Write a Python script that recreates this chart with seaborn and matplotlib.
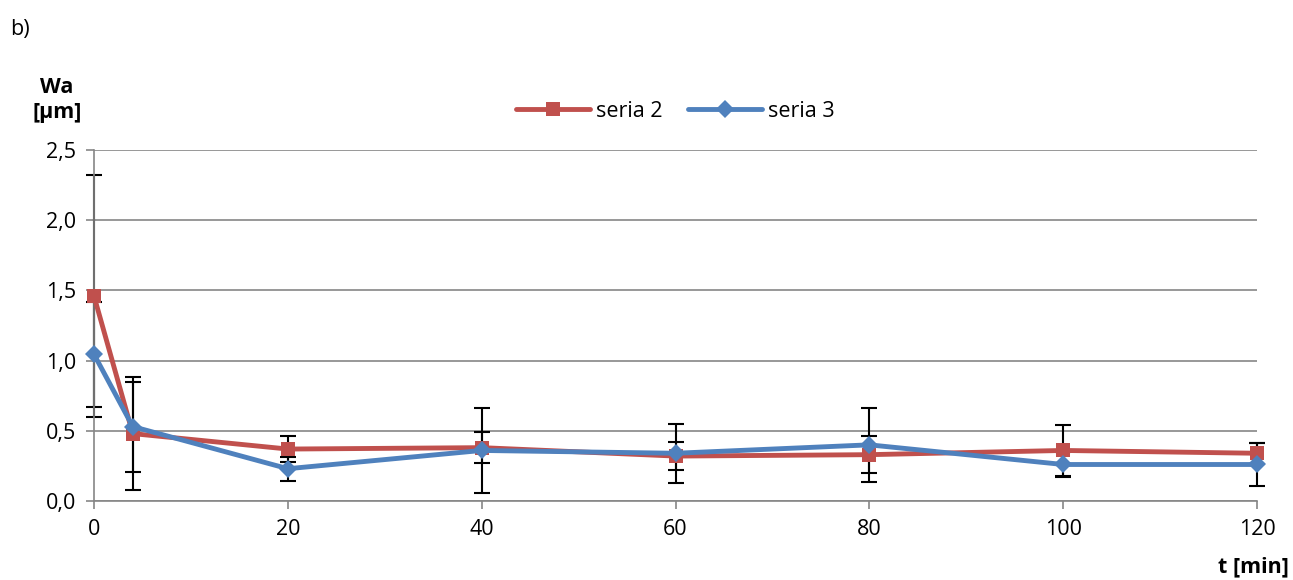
import numpy as np
import pandas as pd
import matplotlib
matplotlib.use('Agg')
import matplotlib.pyplot as plt
import seaborn as sns

# dane
t_min = [0, 4, 20, 40, 60, 80, 100, 120]
seria2 = [1.46, 0.48, 0.37, 0.38, 0.32, 0.33, 0.36, 0.34]
seria2_err = [0.86, 0.40, 0.095, 0.11, 0.10, 0.13, 0.18, 0.075]
seria3 = [1.045, 0.53, 0.23, 0.36, 0.34, 0.40, 0.26, 0.26]
seria3_err = [0.375, 0.32, 0.085, 0.30, 0.21, 0.265, 0.09, 0.15]
y_ticks = [0.0, 0.5, 1.0, 1.5, 2.0, 2.5]
x_ticks = [0, 20, 40, 60, 80, 100, 120]

df = pd.DataFrame({
    't': t_min * 2,
    'Wa': seria2 + seria3,
    'err': seria2_err + seria3_err,
    'seria': ['seria 2'] * len(t_min) + ['seria 3'] * len(t_min),
})

sns.set_style('white')
plt.rcParams['font.family'] = ['Open Sans', 'DejaVu Sans']
plt.rcParams['text.color'] = 'black'
plt.rcParams['xtick.labelcolor'] = 'black'
plt.rcParams['ytick.labelcolor'] = 'black'
fs = 15.5

fig = plt.figure(figsize=(12.93, 5.8), dpi=100)
ax = fig.add_axes([94 / 1293, 1 - 501 / 580, (1257 - 94) / 1293, (501 - 150) / 580])

colors = {'seria 2': '#C0504D', 'seria 3': '#4F81BD'}
markers = {'seria 2': 's', 'seria 3': 'D'}

# slupki bledow (czarne)
for name, g in df.groupby('seria'):
    eb = ax.errorbar(g['t'], g['Wa'], yerr=g['err'], fmt='none', ecolor='black',
                     elinewidth=1.5, capsize=6, capthick=1.5, zorder=2)
    for art in eb.lines[1] + eb.lines[2]:
        art.set_clip_on(False)

sns.lineplot(data=df, x='t', y='Wa', hue='seria', style='seria', palette=colors,
             markers=markers, dashes=False, linewidth=3.5, markersize=9.5,
             markeredgewidth=0, ax=ax, zorder=3, legend=True)
for ln in ax.lines:
    ln.set_clip_on(False)

ax.set_xlim(0, 120)
ax.set_ylim(0, 2.5)
ax.set_xticks(x_ticks)
ax.set_yticks(y_ticks)
ax.set_yticklabels([f'{v:.1f}'.replace('.', ',') for v in y_ticks], fontsize=fs)
ax.set_xticklabels([str(v) for v in x_ticks], fontsize=fs)
ax.set_xlabel('')
ax.set_ylabel('')

ax.grid(axis='y', color='#868686', linewidth=1.2)
ax.grid(axis='x', visible=False)
for s in ['top', 'right']:
    ax.spines[s].set_visible(False)
for s in ['left', 'bottom']:
    ax.spines[s].set_color('#868686')
    ax.spines[s].set_linewidth(1.2)
ax.tick_params(axis='both', which='both', direction='out', length=6, width=1.2,
               color='#868686', labelcolor='black', left=True, bottom=True, pad=7)
ax.set_axisbelow(True)

leg = ax.legend(loc='center', bbox_to_anchor=(0.5, 1.11), ncol=2, frameon=False,
                fontsize=fs, handlelength=3.4, columnspacing=1.2, handletextpad=0.3)
for txt in leg.get_texts():
    txt.set_color('black')

fig.text(10 / 1293, 1 - 30 / 580, 'b)', fontsize=fs, va='center', ha='left')
fig.text(57 / 1293, 1 - 100 / 580, 'Wa\n[µm]', fontsize=fs, fontweight='bold',
         va='center', ha='center', linespacing=1.3)
fig.text(1289 / 1293, 1 - 567 / 580, 't [min]', fontsize=fs, fontweight='bold',
         va='center', ha='right')

fig.savefig('out.png', dpi=100)
